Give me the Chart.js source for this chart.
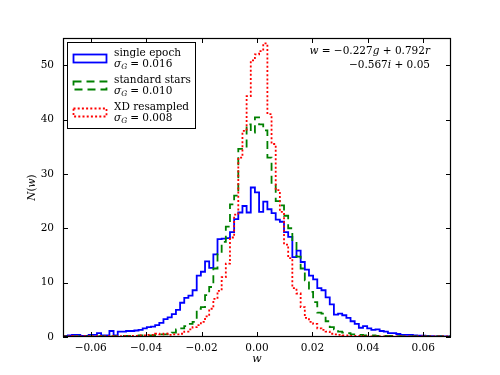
<!DOCTYPE html>
<html><head><meta charset="utf-8">
<script src="https://cdn.jsdelivr.net/npm/chart.js@4"></script>
<style>html,body{margin:0;padding:0;background:#fff}#wrap{width:500px;height:375px;position:relative}</style>
</head><body><div id="wrap"><canvas id="c" width="500" height="375"></canvas></div>
<script>
// ---- data ----
const binStart = -0.07425;
const binWidth = 0.0015;
const singleEpoch = [
 0.2,0.2,0.2,0.2,0.2,0.3,0.4,0.4,0.2,0.2,
 0.4,0.4,0.7,0.3,0.3,1.1,0.3,1.0,1.0,1.1,
 1.1,1.2,1.3,1.6,1.8,1.9,2.2,2.6,3.3,3.6,
 4.2,5.0,6.3,7.2,7.6,8.6,11.3,12.0,13.9,12.7,
 15.2,18.0,18.1,18.2,19.3,21.7,22.9,24.1,22.9,27.5,
 26.6,23.0,24.9,23.5,22.8,21.6,21.2,19.3,18.4,14.7,
 15.9,13.8,12.4,11.3,10.6,9.0,8.6,7.3,6.0,4.1,
 4.3,4.0,3.5,2.9,2.4,1.7,2.0,1.6,1.3,1.4,
 1.1,1.0,0.7,0.7,0.55,0.4,0.4,0.4,0.3,0.25,
 0.25,0.2,0.15,0.1,0.15,0.1,0.1,0.1,0.1
];
const standardStars = [
 0.1,0.1,0.1,0.1,0.1,0.1,0.1,0.1,0.1,0.1,
 0.1,0.1,0.15,0.1,0.15,0.1,0.15,0.2,0.2,0.2,
 0.2,0.2,0.3,0.3,0.3,0.3,0.4,0.5,0.5,0.6,
 0.8,1.4,1.6,2.0,2.4,2.8,5.2,5.5,7.7,9.2,
 12.6,15.3,17.5,20.3,24.4,26.0,34.6,34.6,39.1,37.6,
 40.4,39.1,38.0,33.0,28.0,25.0,24.2,22.3,20.0,17.5,
 14.8,12.6,10.4,8.3,6.4,4.5,4.3,2.9,1.8,1.4,
 1.0,0.8,0.7,0.5,0.5,0.4,0.3,0.3,0.3,0.2,
 0.2,0.2,0.2,0.15,0.15,0.1,0.1,0.1,0.1,0.1,
 0.1,0.1,0.1,0.1,0.1,0.1,0.1,0.1,0.1
];
const xdResampled = [
 0.1,0.1,0.1,0.1,0.1,0.1,0.15,0.1,0.1,0.15,
 0.1,0.1,0.15,0.1,0.15,0.15,0.1,0.15,0.2,0.15,
 0.2,0.2,0.3,0.3,0.4,0.4,0.6,0.5,0.6,0.4,
 0.5,0.5,0.6,1.0,1.4,1.8,2.2,2.8,3.8,5.2,
 7.0,8.5,11.0,13.5,18.3,22.5,33.0,37.9,44.3,50.9,
 52.0,52.6,54.0,41.0,35.5,27.0,23.0,17.0,14.5,9.0,
 8.0,5.5,3.5,2.8,2.4,1.6,1.3,1.0,0.6,0.5,
 0.4,0.3,0.3,0.2,0.2,0.2,0.1,0.1,0.1,0.1,
 0.1,0.1,0.1,0.1,0.1,0.1,0.1,0.1,0.1,0.1,
 0.1,0.1,0.1,0.1,0.1,0.1,0.1,0.1,0.1
];
const xTicks = [-0.06,-0.04,-0.02,0,0.02,0.04,0.06];
const xTickLabels = ['\u22120.06','\u22120.04','\u22120.02','0.00','0.02','0.04','0.06'];
const yTicks = [0,10,20,30,40,50];
const seriesLabels = ['single epoch','standard stars','XD resampled'];
const sigmaValues = ['0.016','0.010','0.008'];
const seriesColors = ['#0000ff','#008000','#ff0000'];
const seriesDash = [[],[8,5],[2,2.2]];

function toSteps(vals){
  const pts = vals.map((v,i)=>({x: binStart + i*binWidth, y: v}));
  pts.push({x: binStart + vals.length*binWidth, y: vals[vals.length-1]});
  return pts;
}

const SERIF = '"DejaVu Serif", "Liberation Serif", serif';
const FS = 10.5;

const decor = {
  id:'decor',
  afterDatasetsDraw(chart){
    const {ctx, chartArea:a, scales:{x, y}} = chart;
    ctx.save();
    // frame
    ctx.strokeStyle = '#000'; ctx.lineWidth = 1.2; ctx.setLineDash([]);
    ctx.strokeRect(a.left+0.5, a.top+0.5, a.right-a.left-1, a.bottom-a.top-1);
    // ticks (inward, all sides)
    ctx.lineWidth = 1;
    ctx.beginPath();
    xTicks.forEach(t=>{
      const px = Math.round(x.getPixelForValue(t))+0.5;
      ctx.moveTo(px, a.bottom); ctx.lineTo(px, a.bottom-5);
      ctx.moveTo(px, a.top); ctx.lineTo(px, a.top+5);
    });
    yTicks.forEach(t=>{
      const py = Math.round(y.getPixelForValue(t))+0.5;
      ctx.moveTo(a.left, py); ctx.lineTo(a.left+5, py);
      ctx.moveTo(a.right, py); ctx.lineTo(a.right-5, py);
    });
    ctx.stroke();

    // legend
    const lx = 67.5, ly = 42.5, lw = 128, lh = 86;
    ctx.fillStyle = '#fff'; ctx.fillRect(lx, ly, lw, lh);
    ctx.strokeStyle = '#000'; ctx.lineWidth = 1; ctx.strokeRect(lx, ly, lw, lh);
    for(let i=0;i<3;i++){
      const top = 54.5 + 27*i;
      ctx.strokeStyle = seriesColors[i]; ctx.lineWidth = 1.8; ctx.setLineDash(seriesDash[i]);
      ctx.strokeRect(73.5, top, 33, 8);
      ctx.setLineDash([]);
      ctx.fillStyle = '#000';
      ctx.textAlign = 'left'; ctx.textBaseline = 'alphabetic';
      ctx.font = FS + 'px ' + SERIF;
      ctx.fillText(seriesLabels[i], 114, 55.5 + 27*i);
      let tx = 114; const by = 66.5 + 27*i;
      ctx.font = 'italic ' + FS + 'px ' + SERIF;
      ctx.fillText('\u03c3', tx, by); tx += ctx.measureText('\u03c3').width;
      ctx.font = 'italic 7.5px ' + SERIF;
      ctx.fillText('G', tx, by+2.5); tx += ctx.measureText('G').width + 3;
      ctx.font = FS + 'px ' + SERIF;
      ctx.fillText('= ' + sigmaValues[i], tx, by);
    }

    // annotation (right aligned)
    function drawRich(parts, right, base){
      let w = 0;
      parts.forEach(p=>{ ctx.font = (p[1]?'italic ':'') + FS + 'px ' + SERIF; w += ctx.measureText(p[0]).width; });
      let tx = right - w;
      ctx.textAlign = 'left';
      parts.forEach(p=>{ ctx.font = (p[1]?'italic ':'') + FS + 'px ' + SERIF; ctx.fillText(p[0], tx, base); tx += ctx.measureText(p[0]).width; });
    }
    ctx.fillStyle = '#000';
    drawRich([['w',1],[' = \u22120.227',0],['g',1],[' + 0.792',0],['r',1]], 430, 54);
    drawRich([['\u22120.567',0],['i',1],[' + 0.05',0]], 430, 68);

    // axis titles
    ctx.font = 'italic 11px ' + SERIF; ctx.textAlign = 'center'; ctx.textBaseline = 'middle';
    ctx.fillText('w', (a.left+a.right)/2, 359);
    ctx.save();
    ctx.translate(32, (a.top+a.bottom)/2);
    ctx.rotate(-Math.PI/2);
    const parts = [['N',1],['(',0],['w',1],[')',0]];
    let tw = 0;
    parts.forEach(p=>{ ctx.font = (p[1]?'italic ':'') + FS + 'px ' + SERIF; tw += ctx.measureText(p[0]).width; });
    let sx = -tw/2; ctx.textAlign='left';
    parts.forEach(p=>{ ctx.font = (p[1]?'italic ':'') + FS + 'px ' + SERIF; ctx.fillText(p[0], sx, 0); sx += ctx.measureText(p[0]).width; });
    ctx.restore();
    ctx.restore();
  }
};

const mkSet = (vals, i, order) => ({
  label: seriesLabels[i], data: toSteps(vals), stepped: 'after',
  borderColor: seriesColors[i], borderWidth: 1.8, borderDash: seriesDash[i],
  pointRadius: 0, fill: false, tension: 0, order: order
});

new Chart(document.getElementById('c'), {
  type: 'line',
  data: { datasets: [ mkSet(singleEpoch,0,3), mkSet(standardStars,1,2), mkSet(xdResampled,2,1) ] },
  options: {
    responsive: false, animation: false, events: [],
    layout: { padding: { top: 38, right: 49, left: 0, bottom: 0 } },
    plugins: { legend: { display: false }, tooltip: { enabled: false } },
    scales: {
      x: {
        type: 'linear', min: -0.07, max: 0.07,
        afterBuildTicks: s => { s.ticks = xTicks.map(v=>({value:v})); },
        afterFit: s => { s.height = 38; },
        grid: { display: false, drawTicks: false }, border: { display: false },
        ticks: { color: '#000', padding: 5, maxRotation: 0, autoSkip: false,
          font: { family: SERIF, size: FS },
          callback: (v) => { const k = xTicks.findIndex(t=>Math.abs(t-v)<1e-9); return k>=0 ? xTickLabels[k] : ''; } }
      },
      y: {
        min: 0, max: 55,
        afterBuildTicks: s => { s.ticks = yTicks.map(v=>({value:v})); },
        afterFit: s => { s.width = 63; },
        grid: { display: false, drawTicks: false }, border: { display: false },
        ticks: { color: '#000', padding: 9, autoSkip: false, font: { family: SERIF, size: FS } }
      }
    }
  },
  plugins: [decor]
});
</script>
</body></html>
